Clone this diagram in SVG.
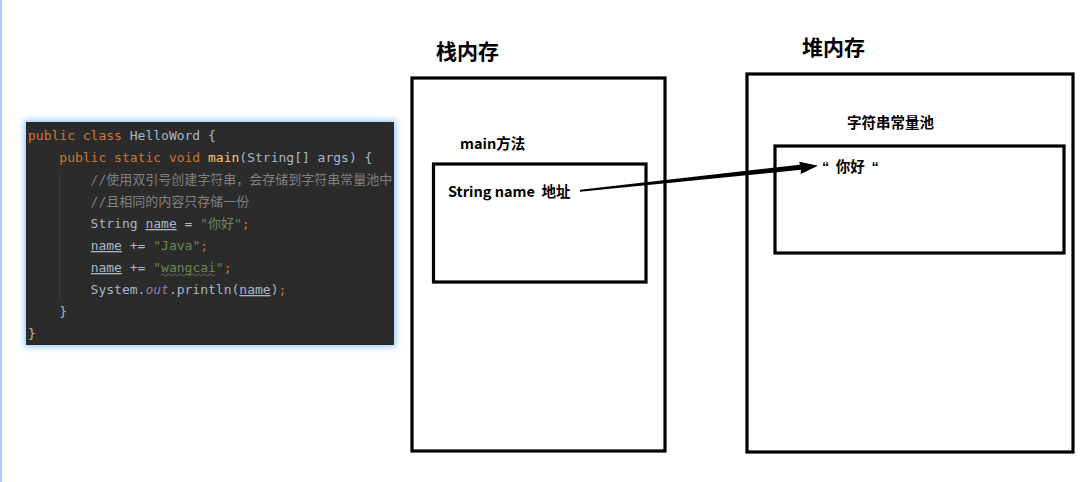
<svg xmlns="http://www.w3.org/2000/svg" width="1084" height="482" viewBox="0 0 1084 482">
<style>
.box{fill:none;stroke:#000;stroke-width:3.2}
.lbl{font-family:"Noto Sans CJK SC","Noto Sans",sans-serif;font-weight:bold;fill:#000;white-space:pre}
.code{font-family:"DejaVu Sans Mono","Liberation Mono","Noto Sans CJK SC",monospace;font-size:13px;fill:#a9b7c6;white-space:pre}
.kw{fill:#cc7832}
.fn{fill:#ffc66d}
.cm{fill:#808080}
.st{fill:#6a8759}
.pu{fill:#9876aa;font-style:italic}
.u{text-decoration:underline}
</style>
<defs>
<filter id="glow" x="-10%" y="-10%" width="120%" height="120%">
<feGaussianBlur stdDeviation="3"/>
</filter>
</defs>
<rect x="0" y="0" width="1084" height="482" fill="#fff"/>
<rect x="0" y="0" width="2" height="482" fill="#a8cdf5"/>

<g id="code">
<rect x="24" y="120" width="372" height="227" fill="#9cc8ff" filter="url(#glow)"/>
<rect x="26" y="122" width="368" height="223" fill="#2b2b2b"/>
<line x1="59.5" y1="170" x2="59.5" y2="300" stroke="#3a3a3a" stroke-width="1"/>
<text class="code" x="28" y="140" xml:space="preserve"><tspan class="kw">public class </tspan>HelloWord {</text>
<text class="code" x="28" y="162" xml:space="preserve">    <tspan class="kw">public static void </tspan><tspan class="fn">main</tspan>(String[] args) {</text>
<text class="code" x="28" y="184" xml:space="preserve"><tspan class="cm">        //使用双引号创建字符串，会存储到字符串常量池中</tspan></text>
<text class="code" x="28" y="206" xml:space="preserve"><tspan class="cm">        //且相同的内容只存储一份</tspan></text>
<text class="code" x="28" y="228" xml:space="preserve">        String <tspan class="u">name</tspan> = <tspan class="st">"你好"</tspan><tspan class="kw">;</tspan></text>
<text class="code" x="28" y="250" xml:space="preserve">        <tspan class="u">name</tspan> += <tspan class="st">"Java"</tspan><tspan class="kw">;</tspan></text>
<text class="code" x="28" y="272" xml:space="preserve">        <tspan class="u">name</tspan> += <tspan class="st">"wangcai"</tspan><tspan class="kw">;</tspan></text>
<path d="M161 275 q1.5 -2 3 0 t3 0 t3 0 t3 0 t3 0 t3 0 t3 0 t3 0 t3 0 t3 0 t3 0 t3 0 t3 0 t3 0 t3 0 t3 0 t3 0 t3 0" fill="none" stroke="#6a8759" stroke-width="0.8"/>
<text class="code" x="28" y="294" xml:space="preserve">        System.<tspan class="pu">out</tspan>.println(<tspan class="u">name</tspan>)<tspan class="kw">;</tspan></text>
<text class="code" x="28" y="316" xml:space="preserve">    }</text>
<text class="code" x="28" y="338" fill="#6fa3d6">}</text>
</g>

<g id="stack">
<rect class="box" x="412" y="78" width="253" height="373"/>
<text class="lbl" x="436" y="59" font-size="21">栈内存</text>
</g>

<g id="main-frame">
<rect class="box" x="433.5" y="164" width="212.5" height="118"/>
<text class="lbl" x="460" y="149" font-size="14.5">main方法</text>
<text class="lbl" x="448" y="197" font-size="14.5" xml:space="preserve">String name  地址</text>
</g>

<g id="heap">
<rect class="box" x="747" y="74" width="326" height="378"/>
<text class="lbl" x="802" y="55" font-size="21">堆内存</text>
</g>

<g id="pool">
<rect class="box" x="775" y="146" width="289" height="107"/>
<text class="lbl" x="847" y="128" font-size="14.5">字符串常量池</text>
<text class="lbl" x="822" y="172" font-size="14.5" xml:space="preserve"><tspan font-family="Liberation Sans,sans-serif">“</tspan>  你好  <tspan font-family="Liberation Sans,sans-serif">“</tspan></text>
</g>

<g id="connectors">
<polygon points="580,191.7 801,169.8 800.6,174 818,165.8 799.4,161.8 799.8,164.8 580,189.7" fill="#000"/>
</g>
</svg>
